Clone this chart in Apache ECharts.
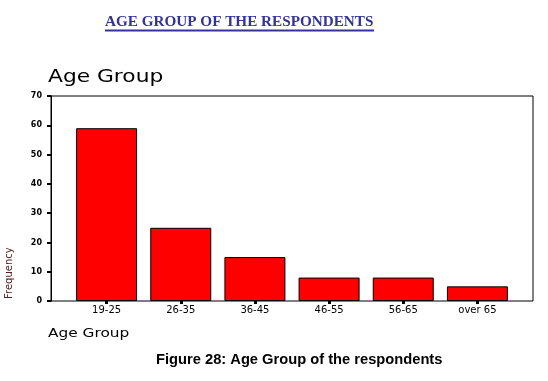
<!DOCTYPE html>
<html>
<head>
<meta charset="utf-8">
<script src="https://cdn.jsdelivr.net/npm/echarts@6/dist/echarts.min.js"></script>
<style>html,body{margin:0;padding:0;background:#fff;}#c{width:548px;height:381px;}</style>
</head>
<body>
<div id="c"></div>
<script>
var categories = ['19-25', '26-35', '36-45', '46-55', '56-65', 'over 65'];
var frequency = [59, 25, 15, 8, 8, 5];
var yTicks = { min: 0, max: 70, interval: 10 };

var chart = echarts.init(document.getElementById('c'), null, { renderer: 'canvas' });
var option = {
  animation: false,
  backgroundColor: '#fff',
  title: [
    { text: 'AGE GROUP OF THE RESPONDENTS', left: 105, top: 15, padding: 0,
      textStyle: { fontFamily: 'Liberation Serif', fontWeight: 'bold', fontSize: 15.2, color: '#333399' } },
    { text: 'Figure 28: Age Group of the respondents', left: 156, top: 352, padding: 0,
      textStyle: { fontFamily: 'Liberation Sans', fontWeight: 'bold', fontSize: 14.7, color: '#000' } }
  ],
  graphic: [
    { type: 'line', shape: { x1: 105, y1: 30.5, x2: 374, y2: 30.5 }, style: { stroke: '#333399', lineWidth: 2 } },
    { type: 'text', x: 48, y: 69, scaleX: 1.28,
      style: { text: 'Age Group', font: '17px "DejaVu Sans"', fill: '#000', textBaseline: 'top', textAlign: 'left' } },
    { type: 'text', x: 48, y: 327, scaleX: 1.18,
      style: { text: 'Age Group', font: '13px "DejaVu Sans"', fill: '#000', textBaseline: 'top', textAlign: 'left' } },
    { type: 'text', x: 4, y: 299, rotation: Math.PI / 2,
      style: { text: 'Frequency', font: '10px "DejaVu Sans"', fill: '#552222', textBaseline: 'top', textAlign: 'left' } }
  ],
  grid: [
    { left: 51, top: 96, width: 482, height: 205, show: true, borderColor: '#000', borderWidth: 1, backgroundColor: 'transparent' },
    { left: 69.5, top: 96, width: 445, height: 205 }
  ],
  xAxis: [
    { gridIndex: 0, type: 'category', data: categories, show: false },
    { gridIndex: 1, type: 'category', data: categories,
      axisLine: { show: false },
      axisTick: { show: true, alignWithLabel: true, length: 3, lineStyle: { color: '#000', width: 3 } },
      axisLabel: { color: '#000', fontFamily: 'DejaVu Sans', fontSize: 10, margin: 4 } }
  ],
  yAxis: [
    { gridIndex: 0, type: 'value', min: yTicks.min, max: yTicks.max, interval: yTicks.interval,
      axisLine: { show: true, lineStyle: { color: '#000', width: 1 } },
      axisTick: { show: true, length: 4, lineStyle: { color: '#000', width: 2 } },
      axisLabel: { color: '#000', fontFamily: 'DejaVu Sans', fontWeight: 'bold', fontSize: 8, margin: 9 },
      splitLine: { show: false } },
    { gridIndex: 1, type: 'value', min: yTicks.min, max: yTicks.max, interval: yTicks.interval, show: false, splitLine: { show: false } }
  ],
  series: [
    { type: 'bar', xAxisIndex: 1, yAxisIndex: 1, data: frequency, barWidth: 61,
      itemStyle: { color: '#ff0000', borderColor: '#000', borderWidth: 1 } }
  ]
};
chart.setOption(option);
</script>
</body>
</html>
